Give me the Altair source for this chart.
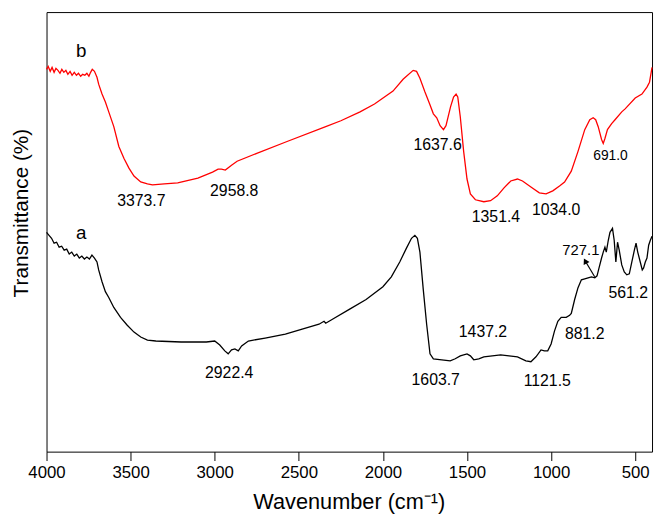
import altair as alt
import pandas as pd

# ---- curve b (red, upper) : wavenumber (cm-1) and transmittance (arb. units)
wn_b = [4000, 3990, 3978, 3967, 3955, 3944, 3932, 3920, 3909, 3897, 3885, 3873, 3860, 3848,
        3835, 3822, 3810, 3797, 3785, 3772, 3760, 3748, 3738, 3728, 3715, 3700, 3690, 3670,
        3650, 3630, 3600, 3570, 3540, 3510, 3480, 3440, 3400, 3370, 3300, 3220, 3100, 3013,
        2980, 2960, 2937, 2900, 2867, 2750, 2570, 2340, 2250, 2136, 2050, 1940, 1880, 1860,
        1820, 1800, 1780, 1750, 1722, 1700, 1680, 1660, 1640, 1625, 1598, 1580, 1565, 1555,
        1540, 1520, 1500, 1480, 1450, 1400, 1360, 1320, 1280, 1240, 1200, 1170, 1120, 1070,
        1030, 990, 950, 920, 880, 840, 800, 770, 750, 735, 720, 700, 690, 680, 665, 640, 620,
        580, 560, 500, 460, 430, 415, 405, 400]
t_b = [387, 390, 385, 389, 384, 388, 386, 383, 387, 384, 386, 382, 385, 381,
       384, 381, 383, 380, 382, 381, 383, 380, 384, 387, 385, 379, 372, 362,
       354, 344, 329, 309, 297, 287, 279, 273, 271, 270, 271, 272, 277, 283,
       286, 286, 285, 290, 294, 302, 314, 329, 335, 344, 352, 365, 377, 380,
       386, 385, 378, 364, 352, 342, 338, 330, 326, 330, 349, 359, 362, 359,
       339, 304, 276, 261, 255, 253, 254, 259, 267, 274, 276, 274, 268, 262,
       261, 264, 269, 273, 284, 304, 326, 336, 338, 336, 329, 316, 312, 317,
       326, 332, 336, 344, 347, 358, 362, 369, 374, 384, 389]

# ---- curve a (black, lower)
wn_a = [4000, 3985, 3970, 3955, 3940, 3925, 3910, 3895, 3880, 3865, 3850, 3835, 3820, 3805,
        3790, 3775, 3760, 3745, 3730, 3715, 3700, 3690, 3670, 3650, 3630, 3600, 3560, 3520,
        3480, 3440, 3400, 3350, 3200, 3050, 3000, 2970, 2940, 2920, 2900, 2880, 2860, 2840,
        2800, 2700, 2580, 2480, 2380, 2350, 2340, 2300, 2200, 2100, 2000, 1950, 1900, 1860,
        1830, 1810, 1795, 1780, 1760, 1740, 1720, 1700, 1650, 1600, 1570, 1540, 1500, 1480,
        1460, 1430, 1400, 1300, 1250, 1200, 1150, 1120, 1090, 1060, 1040, 1020, 1000, 980,
        960, 940, 910, 890, 880, 860, 840, 820, 800, 780, 760, 740, 727, 715, 700, 690, 680,
        672, 660, 650, 635, 625, 615, 605, 595, 580, 565, 550, 535, 520, 505, 495, 485, 470,
        458, 450, 440, 430, 420, 410, 400]
t_a = [222, 219, 216, 211, 212, 207, 208, 204, 205, 200, 202, 198, 200, 196,
       198, 195, 197, 195, 199, 196, 192, 184, 172, 162, 156, 146, 136, 128,
       121, 116, 113, 112, 111, 111, 112, 108, 102, 99, 103, 104, 102, 107,
       112, 115, 119, 124, 129, 132, 130, 134, 144, 154, 167, 177, 192, 206,
       216, 219, 216, 202, 164, 129, 99, 94, 93, 92, 94, 97, 99, 97,
       93, 94, 96, 98, 97, 96, 92, 91, 96, 103, 102, 102, 109, 122,
       132, 136, 136, 138, 140, 154, 166, 174, 175, 176, 177, 176, 178, 186, 196, 202, 207,
       202, 214, 222, 226, 214, 192, 212, 204, 189, 182, 179, 180, 192, 204, 211, 202, 192,
       184, 186, 192, 196, 209, 214, 218]

# ---- peak labels
lab_text = ["3373.7", "2958.8", "1637.6", "1351.4", "1034.0", "691.0",
            "2922.4", "1603.7", "1437.2", "1121.5", "881.2", "727.1", "561.2", "b", "a"]
lab_wn = [3436, 2884, 1675, 1328, 970, 647, 2914, 1686, 1405, 1023, 800, 823, 541, 3794, 3794]
lab_t = [254, 264, 310, 237, 245, 299, 80, 72, 121, 71, 119, 204, 161, 406, 221]
lab_size = [16, 16, 16, 16, 16, 14, 16, 16, 16, 16, 16, 15, 16, 19, 19]

# ---- arrow pointing to 727.1 band
arrow_wn = [741]
arrow_t = [177]
arrow_wn2 = [797]
arrow_t2 = [193]

x_ticks = [4000, 3500, 3000, 2500, 2000, 1500, 1000, 500]

FONT = "Liberation Sans"

df = pd.concat([
    pd.DataFrame({"wn": wn_b, "t": t_b, "series": "b"}),
    pd.DataFrame({"wn": wn_a, "t": t_a, "series": "a"}),
])
df_lab = pd.DataFrame({"text": lab_text, "wn": lab_wn, "t": lab_t, "size": lab_size})
df_arrow = pd.DataFrame({"wn": arrow_wn, "t": arrow_t, "wn2": arrow_wn2, "t2": arrow_t2})

x_scale = alt.Scale(domain=[4000, 400], nice=False, zero=False)
y_scale = alt.Scale(domain=[0, 445], nice=False, zero=False)

x_axis = alt.Axis(values=x_ticks, format="d", title="Wavenumber (cm⁻¹)", domain=False, grid=False,
                  ticks=True, tickSize=9, tickColor="black", tickWidth=1,
                  labelFont=FONT, labelFontSize=17, labelColor="black", labelPadding=4,
                  labelFlush=False, labelOverlap=False,
                  titleFont=FONT, titleFontSize=22, titleFontWeight="normal", titleColor="black",
                  titleBaseline="alphabetic", titleY=58, titleX=306)
y_axis = alt.Axis(title="Transmittance (%)", domain=False, grid=False, ticks=False, labels=False,
                  titleFont=FONT, titleFontSize=21, titleFontWeight="normal", titleColor="black",
                  titleAngle=270, titleAlign="center", titleBaseline="alphabetic",
                  titleX=-19, titleY=203)

lines = alt.Chart(df).mark_line(strokeWidth=1.3).encode(
    x=alt.X("wn:Q", scale=x_scale, axis=x_axis),
    y=alt.Y("t:Q", scale=y_scale, axis=y_axis),
    color=alt.Color("series:N", scale=alt.Scale(domain=["a", "b"], range=["#000000", "#ff0000"]),
                    legend=None),
    order=alt.Order("wn:Q"),
)

labels = alt.Chart(df_lab).mark_text(font=FONT, color="black", align="center",
                                     baseline="middle").encode(
    x=alt.X("wn:Q", scale=x_scale),
    y=alt.Y("t:Q", scale=y_scale),
    text="text:N",
    size=alt.Size("size:Q", scale=None),
)

arrow_line = alt.Chart(df_arrow).mark_rule(color="black", strokeWidth=1.2).encode(
    x=alt.X("wn:Q", scale=x_scale),
    y=alt.Y("t:Q", scale=y_scale),
    x2="wn2:Q",
    y2="t2:Q",
)
arrow_head = alt.Chart(df_arrow).mark_point(shape="triangle-up", filled=True, color="black",
                                            opacity=1, size=45, angle=332).encode(
    x=alt.X("wn2:Q", scale=x_scale),
    y=alt.Y("t2:Q", scale=y_scale),
)

chart = alt.layer(lines, labels, arrow_line, arrow_head).properties(
    width=613, height=445,
    autosize=alt.AutoSizeParams(type="none"),
    padding={"left": 39, "top": 1, "right": 2, "bottom": 60},
).configure_view(stroke="black", strokeWidth=1)

chart.save("out.html", embed_options={"renderer": "svg", "actions": False})
